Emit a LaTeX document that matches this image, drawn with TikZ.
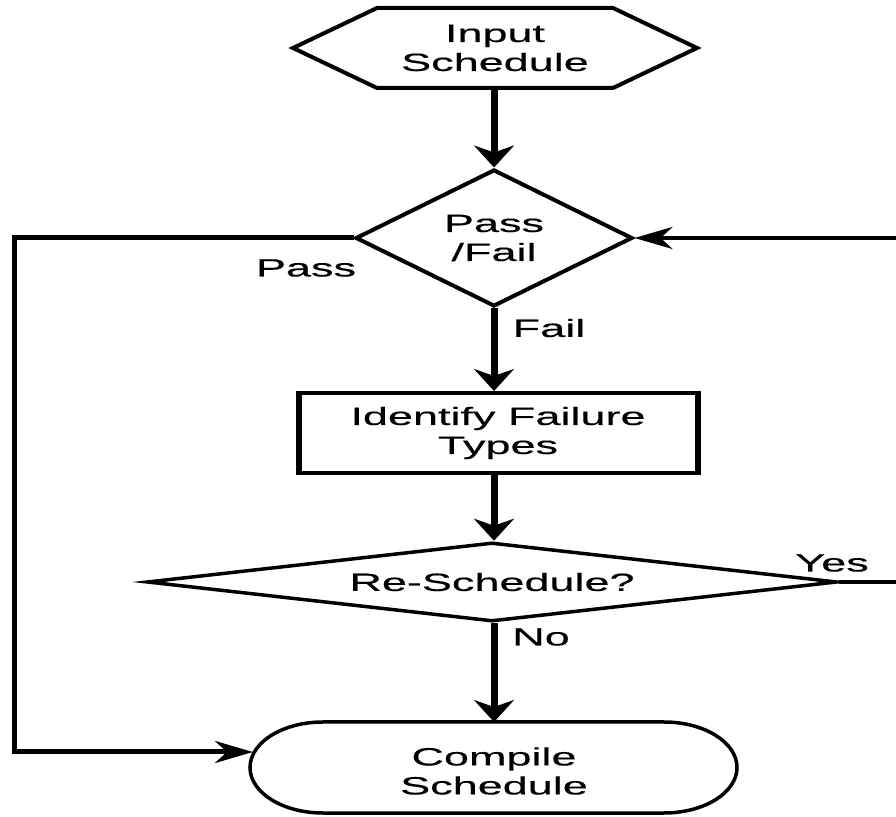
\documentclass[tikz,border=0pt]{standalone}
\usepackage{fontspec}
\setmainfont[FakeStretch=1.8,FakeBold=0.35]{Liberation Sans}
\usetikzlibrary{arrows.meta,shapes.geometric}
\begin{document}
\begin{tikzpicture}[x=1pt,y=1pt,
  lbl/.style={font=\fontsize{25}{29}\selectfont, align=center, inner sep=0pt},
  vline/.style={line width=7pt, -{Stealth[length=22pt,width=40pt,inset=7pt]}},
  hline/.style={line width=4.5pt, -{Stealth[length=38pt,width=22pt,inset=12pt]}},
  plain/.style={line width=4.5pt},
  looppath/.style={line width=5pt, line join=miter, -{Stealth[length=38pt,width=22pt,inset=12pt]}},
]
\useasboundingbox (0,0) rectangle (896,816);
\fill[white] (0,0) rectangle (896,816);

% Input Schedule (hexagon)
\draw[line width=4pt, line join=miter] (293,768) -- (377,808) -- (613,808) -- (697,768) -- (613,728) -- (377,728) -- cycle;
\node[lbl] (inp) at (495,768) {Input\\Schedule};
\coordinate (inpB) at (494,728);

% Pass/Fail decision
\node[draw, diamond, aspect=2, line width=4pt, minimum width=277pt, minimum height=137pt, lbl] (pf) at (494,578) {Pass\\/Fail};

% Identify Failure Types
\node[draw, rectangle, line width=4pt, minimum width=397pt, minimum height=80pt, lbl] (ift) at (498,383) {Identify Failure\\Types};
\draw[line width=6pt] ([xshift=1pt]ift.north west) -- ([xshift=1pt]ift.south west);
\draw[line width=5pt] ([xshift=-0.5pt]ift.north east) -- ([xshift=-0.5pt]ift.south east);

% Re-Schedule? decision
\node[draw, diamond, aspect=8.6, line width=3.5pt, minimum width=690pt, minimum height=79pt, lbl] (rs) at (492,234) {Re-Schedule?};

% Compile Schedule (stadium)
\draw[line width=3.5pt] (323,94) -- (664,94) arc[start angle=90, end angle=-90, x radius=73, y radius=45.5] -- (323,3) arc[start angle=270, end angle=90, x radius=73, y radius=45.5] -- cycle;
\node[lbl] (cmp) at (494,45) {Compile\\Schedule};
\coordinate (cmpT) at (494,94);
\coordinate (cmpL) at (253,64);

% helper coordinates
\coordinate (lc) at (14,0);
\coordinate (re) at (896,0);

% connectors
\draw[vline] (inpB) -- (pf.north);
\draw[vline] (pf.south) -- (pf.south |- ift.north);
\draw[vline] (pf.south |- ift.south) -- (pf.south |- rs.north);
\draw[vline] (pf.south |- rs.south) -- (cmpT);
\draw[looppath] (pf.west) -- (pf.west -| lc) |- (cmpL);
\draw[plain] (rs.east) -- (rs.east -| re);
\draw[hline] (pf.east -| re) -- (pf.east);

% labels
\node[lbl] (lpass) at (306,548) {Pass};
\node[lbl] (lfail) at (549,488) {Fail};
\node[lbl] (lno) at (541,179) {No};
\node[lbl] (lyes) at (832,253) {Yes};
\end{tikzpicture}
\end{document}
